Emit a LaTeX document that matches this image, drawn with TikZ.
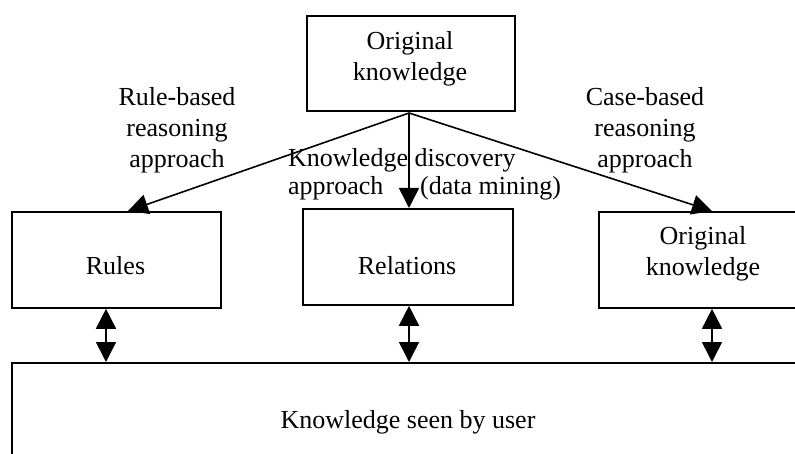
\documentclass[tikz,border=0pt]{standalone}
\usepackage{fontspec}
\setmainfont{Liberation Serif}
\usetikzlibrary{arrows.meta}
\begin{document}
\begin{tikzpicture}[x=1pt,y=-1pt,
  box/.style={draw, line width=1.8pt, inner sep=0pt, anchor=north west},
  lbl/.style={font=\fontsize{26}{31}\selectfont, align=center, inner sep=0pt},
  link/.style={line width=1.6pt, -{Triangle[length=20pt,width=20pt]}},
  dbl/.style={line width=1.6pt, {Triangle[length=20pt,width=20pt]}-{Triangle[length=20pt,width=20pt]}}]
\useasboundingbox (0,0) rectangle (795,454);
\clip (0,0) rectangle (795,454);
% boxes
\node[box, minimum width=208pt, minimum height=95pt] (orig) at (306,15) {};
\node[box, minimum width=209pt, minimum height=96pt] (rules) at (11,211) {};
\node[box, minimum width=210pt, minimum height=96pt] (rel) at (302,208) {};
\node[box, minimum width=240pt, minimum height=96pt] (case) at (598,211) {};
\node[box, minimum width=820pt, minimum height=130pt] (user) at (11,362) {};
% texts (base anchor = baseline of the last line)
\node[lbl, anchor=base] (origtxt) at (410,81) {Original\\knowledge};
\node[lbl, anchor=base] (rulestxt) at (115.5,275) {Rules};
\node[lbl, anchor=base] (reltxt) at (407,275) {Relations};
\node[lbl, anchor=base] (casetxt) at (703,276) {Original\\knowledge};
\node[lbl, anchor=base] (usertxt) at (408,428) {Knowledge seen by user};
\node[lbl, anchor=base] (rbtxt) at (177,168) {Rule-based\\reasoning\\approach};
\node[lbl, anchor=base] (cbtxt) at (645,168) {Case-based\\reasoning\\approach};
\node[lbl, anchor=base west, align=left, font=\fontsize{26}{28}\selectfont] (kdtxt) at (288,195) {Knowledge discovery\\approach};
\node[lbl, anchor=base west] (dmtxt) at (420,195) {(data mining)};
% connectors
\coordinate (apex) at (409,113);
\draw[link] (apex) -- ([xshift=117pt]rules.north west);
\draw[link] (apex) -- (apex |- rel.north);
\draw[link] (apex) -- ([xshift=114pt]case.north west);
\draw[dbl] ([xshift=95pt]rules.south west) -- ([xshift=95pt]user.north west);
\draw[dbl] (apex |- rel.south) -- (apex |- user.north);
\draw[dbl] ([xshift=114pt]case.south west) -- ([xshift=114pt]case.south west |- user.north);
\end{tikzpicture}
\end{document}
